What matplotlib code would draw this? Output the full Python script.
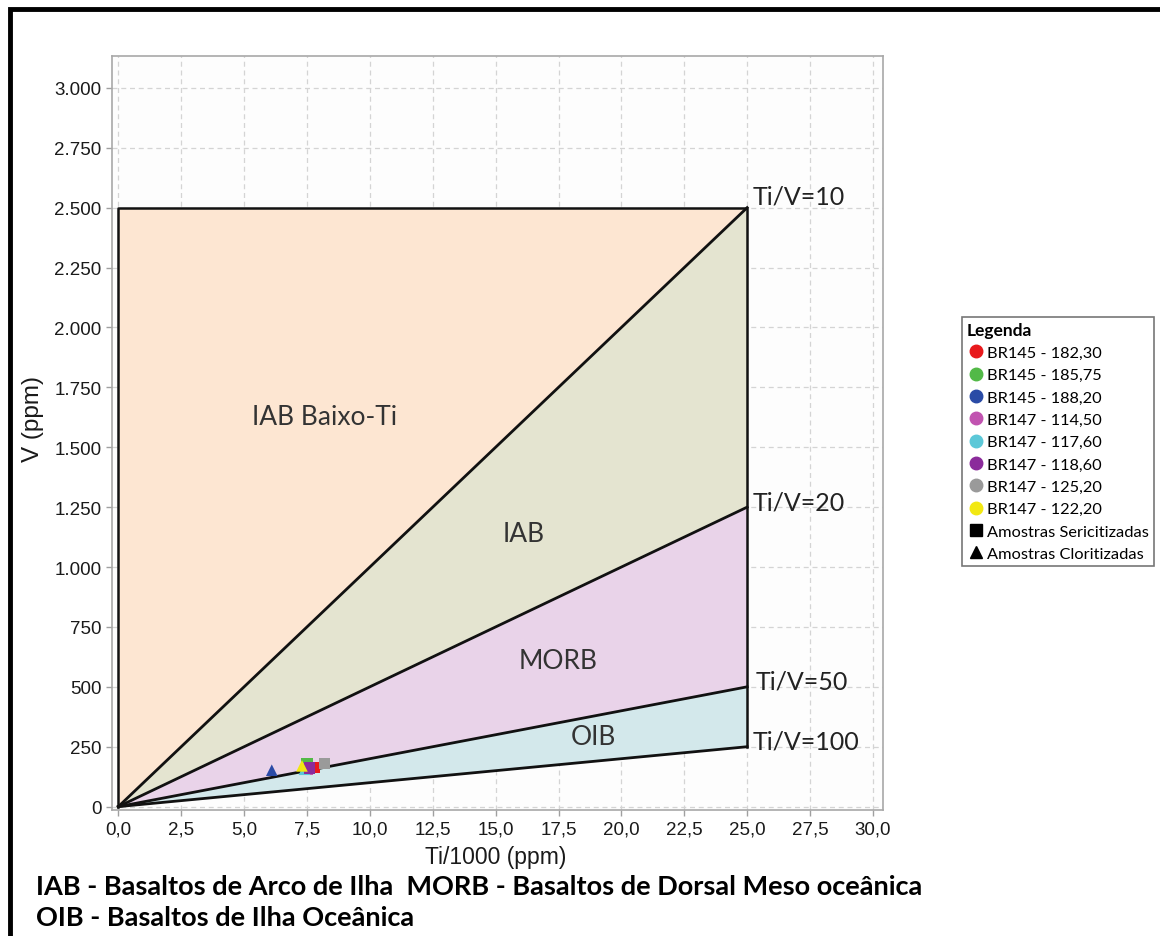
import matplotlib
matplotlib.use("Agg")
import matplotlib.pyplot as plt
import numpy as np
from matplotlib.ticker import FuncFormatter, MultipleLocator
from matplotlib.patches import Rectangle
from matplotlib.lines import Line2D

# --- Discrimination fields (Shervais Ti-V diagram) ---
ti_v_ratios = [10, 20, 50, 100]
ratio_labels = ["Ti/V=10", "Ti/V=20", "Ti/V=50", "Ti/V=100"]
ti_max = 25.0          # Ti/1000 (ppm) where field lines stop
v_top = 2500.0         # upper limit of the low-Ti IAB field

field_names = ["IAB Baixo-Ti", "IAB", "MORB", "OIB"]
field_colors = ["#fde6d2", "#e4e4d0", "#e9d3e9", "#d3e8eb"]

# --- Samples ---
sample_names = ["BR145 - 182,30", "BR145 - 185,75", "BR145 - 188,20",
                "BR147 - 114,50", "BR147 - 117,60", "BR147 - 118,60",
                "BR147 - 125,20", "BR147 - 122,20"]
sample_colors = ["#e8191c", "#52b947", "#2a4ba6", "#c153b0",
                 "#5cc8d8", "#8b2b9b", "#9a9a9a", "#f2e812"]
sample_ti = [7.8, 7.5, 6.1, 7.5, 7.4, 7.6, 8.2, 7.3]
sample_v = [163, 178, 152, 158, 156, 160, 180, 170]
sample_marker = ["s", "s", "^", "s", "^", "s", "s", "^"]

fig = plt.figure(figsize=(11.6, 9.37), dpi=100, facecolor="white")
ax = fig.add_axes([0.0966, 0.1345, 0.6646, 0.8047])
ax.set_facecolor("#fdfdfd")

def v_at(ratio, ti):
    return ti * 1000.0 / ratio

# fields bounded by ratio lines
ax.fill([0, 0, ti_max], [0, v_top, v_top], color=field_colors[0], lw=0, zorder=1)
for i in range(3):
    r1, r2 = ti_v_ratios[i], ti_v_ratios[i + 1]
    ax.fill([0, ti_max, ti_max], [0, v_at(r1, ti_max), v_at(r2, ti_max)],
            color=field_colors[i + 1], lw=0, zorder=1)

# boundary lines
for r in ti_v_ratios:
    ax.plot([0, ti_max], [0, v_at(r, ti_max)], color="#111111", lw=2.0, zorder=3)
ax.plot([0, 0, ti_max, ti_max], [0, v_top, v_top, v_at(100, ti_max)],
        color="#111111", lw=1.8, zorder=3)

# ratio labels
label_offsets = [(0.2, 50), (0.2, 20), (0.35, 25), (0.2, 25)]
for r, lab, (dx, dy) in zip(ti_v_ratios, ratio_labels, label_offsets):
    ax.text(ti_max + dx, v_at(r, ti_max) + dy, lab, fontsize=18,
            family="Lato", ha="left", va="center", color="#222222", zorder=5)

# field names
field_pos = [(8.2, 1630), (16.1, 1140), (17.5, 610), (18.9, 292)]
for name, (x, y) in zip(field_names, field_pos):
    ax.text(x, y, name, fontsize=19, family="Lato", ha="center", va="center",
            color="#333333", zorder=5)

# samples
for ti, v, c, m in zip(sample_ti, sample_v, sample_colors, sample_marker):
    ax.scatter(ti, v, s=70, marker=m, color=c, edgecolors="none", zorder=6)

# axes
ax.set_xlim(-0.25, 30.4)
ax.set_ylim(-14, 3133)
ax.xaxis.set_major_locator(MultipleLocator(2.5))
ax.yaxis.set_major_locator(MultipleLocator(250))
ax.xaxis.set_major_formatter(FuncFormatter(lambda v, p: f"{v:.1f}".replace(".", ",")))
ax.yaxis.set_major_formatter(FuncFormatter(lambda v, p: f"{int(round(v)):,}".replace(",", ".")))
ax.grid(True, color="#d4d4d4", ls=(0, (4, 3)), lw=0.9, zorder=0)
ax.set_axisbelow(True)
for s in ax.spines.values():
    s.set_color("#a8a8a8")
    s.set_linewidth(1.2)
ax.tick_params(axis="both", colors="#a0a0a0", length=4, width=1,
               labelcolor="#1a1a1a", labelsize=13.5)
for t in ax.get_xticklabels() + ax.get_yticklabels():
    t.set_family("Liberation Sans")

ax.set_xlabel("Ti/1000 (ppm)", fontsize=16.5, family="Liberation Sans", color="#1a1a1a")
ax.set_ylabel("V (ppm)", fontsize=17.5, family="Liberation Sans", color="#1a1a1a")
ax.xaxis.set_label_coords(0.498, -0.062)
ax.xaxis.label.set_va("center")
ax.yaxis.set_label_coords(-0.102, 0.52)
ax.yaxis.label.set_va("center")

# legend
handles = [Line2D([], [], marker="o", ls="", color=c, markersize=9) for c in sample_colors]
handles += [Line2D([], [], marker="s", ls="", color="black", markersize=8),
            Line2D([], [], marker="^", ls="", color="black", markersize=8)]
labels = sample_names + ["Amostras Sericitizadas", "Amostras Cloritizadas"]
leg = fig.legend(handles, labels, loc="upper left", bbox_to_anchor=(0.829, 0.661),
                 title="Legenda", frameon=True, fancybox=False, borderpad=0.3,
                 handletextpad=0.15, handlelength=1.1, labelspacing=0.48,
                 borderaxespad=0, prop={"family": "Lato", "size": 11.8},
                 alignment="left")
leg.get_title().set_fontweight("bold")
leg.get_title().set_family("Lato")
leg.get_title().set_fontsize(12.5)
leg.get_frame().set_edgecolor("#555555")
leg.get_frame().set_linewidth(1.2)

# abbreviations
fig.text(0.031, 1 - 895 / 937, "IAB - Basaltos de Arco de Ilha  MORB - Basaltos de Dorsal Meso oceânica",
         fontsize=19.5, family="Lato", fontweight="bold", ha="left", va="baseline")
fig.text(0.031, 1 - 926 / 937, "OIB - Basaltos de Ilha Oceânica",
         fontsize=19.5, family="Lato", fontweight="bold", ha="left", va="baseline")

# outer frame
W, H = 1160, 937
frame = Rectangle((10 / W, -0.05), 1.1, (H - 10) / H + 0.05, transform=fig.transFigure,
                  fill=False, edgecolor="black", lw=3.5, clip_on=False)
fig.patches.append(frame)

fig.savefig("out.png", dpi=100, facecolor="white")
